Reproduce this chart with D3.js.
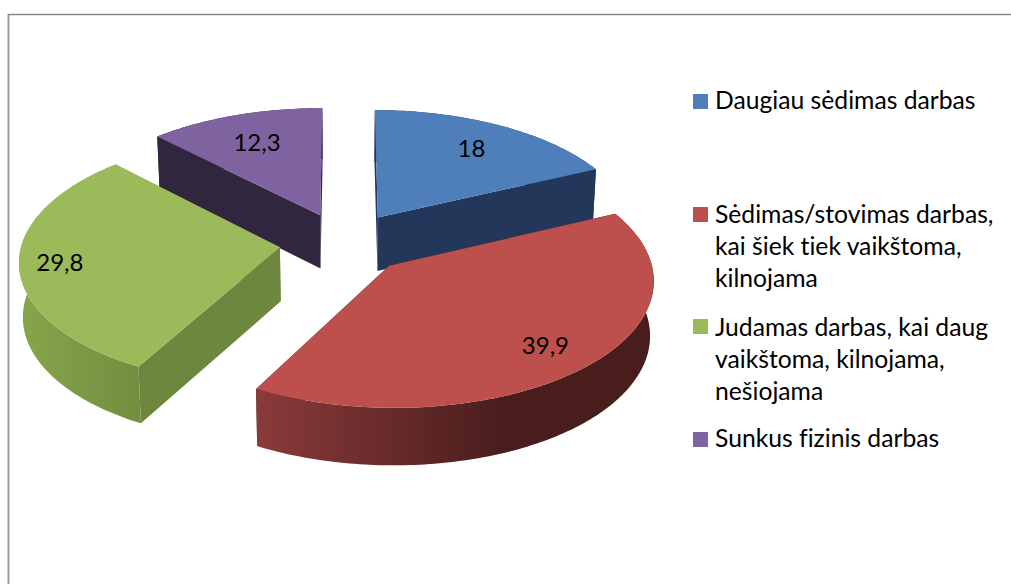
<!DOCTYPE html>
<html><head><meta charset="utf-8">
<script src="https://cdn.jsdelivr.net/npm/d3@7"></script>
<style>html,body{margin:0;padding:0;background:#fff}svg{display:block}text{font-family:Lato,"Open Sans",sans-serif;fill:#000;font-variant-ligatures:none}</style>
</head><body><div id="c"></div>
<script>
const categories = ["Daugiau sėdimas darbas","Sėdimas/stovimas darbas, kai šiek tiek vaikštoma, kilnojama","Judamas darbas, kai daug vaikštoma, kilnojama, nešiojama","Sunkus fizinis darbas"];
const legendLines = [["Daugiau sėdimas darbas"],["Sėdimas/stovimas darbas,","kai šiek tiek vaikštoma,","kilnojama"],["Judamas darbas, kai daug","vaikštoma, kilnojama,","nešiojama"],["Sunkus fizinis darbas"]];
const values = [18,39.9,29.8,12.3];
const valueLabels = ["18","39,9","29,8","12,3"];
const topColors = ["#4e7fba","#bd4f4c","#9bba59","#7f63a1"];
const sideColors = ["#22375a","#4b1e1e","#6e873f","#31263f"];
const rimStops = [["#22375a","#22375a"],["#8a3a3a","#4a1d1d"],["#86a64c","#728e3f"],["#31263f","#31263f"]];

const W=1011,H=584;
const cx=344,cy=243,R=258,Rk=123,persp=0.1,depth=54,explode=0.25;
const labelRadius=[0.75,0.80,0.845,0.725];
const drawOrder=[3,0,2,1];

const svg=d3.select("#c").append("svg").attr("width",W).attr("height",H);
const defs=svg.append("defs");
svg.append("line").attr("x1",8.5).attr("x2",8.5).attr("y1",14).attr("y2",H).attr("stroke","#9a9a9a").attr("stroke-width",2);
svg.append("line").attr("x1",8).attr("x2",W).attr("y1",14.5).attr("y2",14.5).attr("stroke","#8a8a8a").attr("stroke-width",1.6);

const arcs=d3.pie().sort(null).value(d=>d)(values);
function project(X,Y,z){
  const s=1/(1+persp*Y);
  const sx=R*s*(1-0.012*z);
  return [cx+sx*X, cy-Rk*Y*s+depth*Math.sqrt(s)*z];
}
const lineGen=d3.line();
const STEP=Math.PI/180;
arcs.forEach((a,i)=>{
  const mid=(a.startAngle+a.endAngle)/2;
  a.ex=explode*Math.sin(mid); a.ey=explode*Math.cos(mid); a.mid=mid; a.i=i;
  a.rim=d3.range(a.startAngle,a.endAngle,STEP).concat([a.endAngle]);
});
const pt=(a,t,r,z)=>project(a.ex+r*Math.sin(t),a.ey+r*Math.cos(t),z);

drawOrder.forEach(i=>{
  const a=arcs[i];
  const g=svg.append("g");
  const apexT=pt(a,0,0,0),apexB=pt(a,0,0,1);
  const sT=pt(a,a.startAngle,1,0),sB=pt(a,a.startAngle,1,1);
  const eT=pt(a,a.endAngle,1,0),eB=pt(a,a.endAngle,1,1);
  g.append("path").attr("d",lineGen([apexT,sT,sB,apexB])+"Z").attr("fill",sideColors[i]);
  g.append("path").attr("d",lineGen([apexT,eT,eB,apexB])+"Z").attr("fill",sideColors[i]);
  const top=a.rim.map(t=>pt(a,t,1,0)),bot=a.rim.map(t=>pt(a,t,1,1)).reverse();
  const front=a.rim.filter(t=>Math.cos(t)<0.05);
  const xs=(front.length?front:a.rim).map(t=>pt(a,t,1,0)[0]);
  const gid="rim"+i;
  const lg=defs.append("linearGradient").attr("id",gid).attr("gradientUnits","userSpaceOnUse")
    .attr("x1",d3.min(xs)).attr("x2",d3.max(xs)).attr("y1",0).attr("y2",0);
  lg.append("stop").attr("offset",0).attr("stop-color",rimStops[i][0]);
  lg.append("stop").attr("offset",i===1?0.62:1).attr("stop-color",rimStops[i][1]);
  g.append("path").attr("d",lineGen(top.concat(bot))+"Z").attr("fill",`url(#${gid})`);
  g.append("path").attr("d",lineGen([apexT].concat(top))+"Z").attr("fill",topColors[i]);
});

svg.append("g").selectAll("text").data(arcs).join("text")
  .attr("text-anchor","middle").attr("dominant-baseline","central").attr("font-size",24)
  .attr("x",d=>pt(d,d.mid,labelRadius[d.i],0)[0])
  .attr("y",d=>pt(d,d.mid,labelRadius[d.i],0)[1])
  .text(d=>valueLabels[d.i]);

const swatchTop=[94,207,319,432];
const baseline=[109,223,336,447];
const lineGap=31.8;
const leg=svg.append("g").selectAll("g").data(legendLines).join("g");
leg.append("rect").attr("x",693).attr("width",15).attr("height",15)
  .attr("y",(d,i)=>swatchTop[i]).attr("fill",(d,i)=>topColors[i]);
leg.selectAll("text").data((d,i)=>d.map((s,j)=>({s,j,i}))).join("text")
  .attr("x",715).attr("y",d=>baseline[d.i]+d.j*lineGap)
  .attr("font-size",24.7).text(d=>d.s);
</script></body></html>
